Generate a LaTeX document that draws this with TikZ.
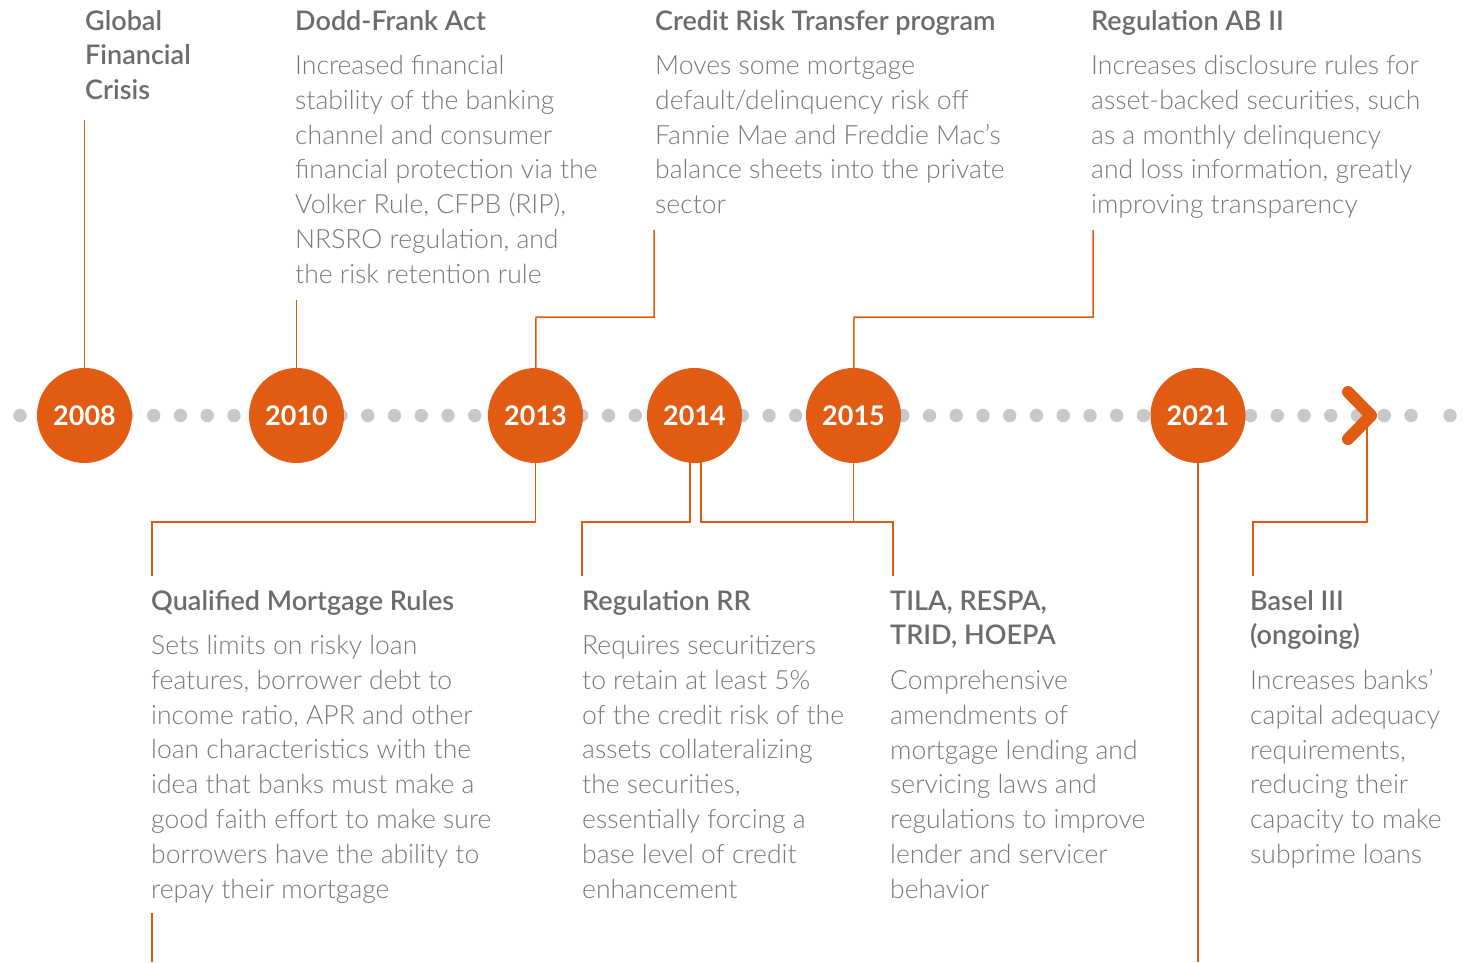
\documentclass[tikz,border=0pt]{standalone}
\usepackage{fontspec}
\setmainfont{Lato}
\newfontfamily\bodyfont{Lato Light}
\newfontfamily\headfont{Lato Semibold}
\definecolor{orng}{RGB}{225,91,18}
\definecolor{dotc}{RGB}{200,200,200}
\definecolor{headc}{RGB}{108,108,108}
\definecolor{bodyc}{RGB}{120,120,120}
\newcommand{\mylines}[1]{\begin{tabular}[t]{@{}l@{}}#1\end{tabular}}
\tikzset{
  head/.style={anchor=base west, inner sep=0pt, text=headc, font=\headfont\fontsize{27}{34.8}\selectfont},
  body/.style={anchor=base west, inner sep=0pt, text=bodyc, font=\bodyfont\fontsize{26.5}{34.8}\selectfont},
  year/.style={circle, fill=orng, minimum size=95pt, inner sep=0pt, text=white, font=\bfseries\fontsize{27}{30}\selectfont},
  conn/.style={draw=orng, line width=1.5pt},
  tldot/.style={fill=dotc}
}
\begin{document}
\begin{tikzpicture}[x=1pt,y=-1pt]
\useasboundingbox (0,0) rectangle (1465,962);
\fill[white] (0,0) rectangle (1465,962);

% dots of the timeline
\foreach \k in {0,...,52} {
  \fill[tldot] (20+26.75*\k,415.5) circle (6.7pt);
}
\fill[tldot] (1450,415.5) circle (6.7pt);

% free ends of connectors
\coordinate (e2008) at (84.5,120);
\coordinate (e2010) at (296.5,300);
\coordinate (k2013) at (536,317);
\coordinate (e2013) at (654,230);
\coordinate (k2015) at (854,317);
\coordinate (e2015) at (1093,230);
\coordinate (b2013) at (152,576);
\coordinate (s2014a) at (690,455);
\coordinate (b2014a) at (582,576);
\coordinate (s2014b) at (701,455);
\coordinate (b2014b) at (893,576);
\coordinate (j2015) at (853.5,522);
\coordinate (chev) at (1367,425);
\coordinate (bchev) at (1253,576);
\coordinate (e2021) at (1198,962);
\coordinate (fa) at (152,913);
\coordinate (fb) at (152,962);

% circle positions (for connectors drawn first)
\coordinate (p2008) at (84.5,415.5);
\coordinate (p2010) at (296.5,415.5);
\coordinate (p2013) at (535.5,415.5);
\coordinate (p2014) at (694.5,415.5);
\coordinate (p2015) at (853.5,415.5);
\coordinate (p2021) at (1198,415.5);

% connectors
\draw[conn] (p2008) -- (e2008);
\draw[conn] (p2010) -- (e2010);
\draw[conn] (p2013) -- (k2013) -| (e2013);
\draw[conn] (p2015) -- (k2015) -| (e2015);
\draw[conn] (p2013) |- (152,522) -- (b2013);
\draw[conn] (s2014a) |- (582,522) -- (b2014a);
\draw[conn] (s2014b) |- (893,522) -- (b2014b);
\draw[conn] (p2015) -- (j2015);
\draw[conn] (chev) |- (1253,522) -- (bchev);
\draw[conn] (p2021) -- (e2021);
\draw[conn] (fa) -- (fb);

% year circles
\node[year] (c2008) at (p2008) {2008};
\node[year] (c2010) at (p2010) {2010};
\node[year] (c2013) at (p2013) {2013};
\node[year] (c2014) at (p2014) {2014};
\node[year] (c2015) at (p2015) {2015};
\node[year] (c2021) at (p2021) {2021};

% chevron
\draw[orng, line width=12pt, line cap=round, line join=round]
  (1348,392) -- (1371,415.5) -- (1348,439);

% top texts
\node[head] (h2008) at (85,30) {\mylines{Global\\Financial\\Crisis}};
\node[head] (h2010) at (295,30) {Dodd-Frank Act};
\node[body] (t2010) at (295,74.5) {\mylines{Increased financial\\stability of the banking\\channel and consumer\\financial protection via the\\Volker Rule, CFPB (RIP),\\NRSRO regulation, and\\the risk retention rule}};
\node[head] (h2013) at (655,30) {Credit Risk Transfer program};
\node[body] (t2013) at (655,74.5) {\mylines{Moves some mortgage\\default/delinquency risk off\\Fannie Mae and Freddie Mac’s\\balance sheets into the private\\sector}};
\node[head] (h2015) at (1091,30) {Regulation AB II};
\node[body] (t2015) at (1091,74.5) {\mylines{Increases disclosure rules for\\asset-backed securities, such\\as a monthly delinquency\\and loss information, greatly\\improving transparency}};

% bottom texts
\node[head] (hqm) at (151,610) {Qualified Mortgage Rules};
\node[body] (tqm) at (151,654.5) {\mylines{Sets limits on risky loan\\features, borrower debt to\\income ratio, APR and other\\loan characteristics with the\\idea that banks must make a\\good faith effort to make sure\\borrowers have the ability to\\repay their mortgage}};
\node[head] (hrr) at (582,610) {Regulation RR};
\node[body] (trr) at (582,654.5) {\mylines{Requires securitizers\\to retain at least 5\%\\of the credit risk of the\\assets collateralizing\\the securities,\\essentially forcing a\\base level of credit\\enhancement}};
\node[head] (htila) at (890,610) {\mylines{TILA, RESPA,\\TRID, HOEPA}};
\node[body] (ttila) at (890,689.5) {\mylines{Comprehensive\\amendments of\\mortgage lending and\\servicing laws and\\regulations to improve\\lender and servicer\\behavior}};
\node[head] (hbasel) at (1250,610) {\mylines{Basel III\\(ongoing)}};
\node[body] (tbasel) at (1250,689.5) {\mylines{Increases banks’\\capital adequacy\\requirements,\\reducing their\\capacity to make\\subprime loans}};
\end{tikzpicture}
\end{document}
